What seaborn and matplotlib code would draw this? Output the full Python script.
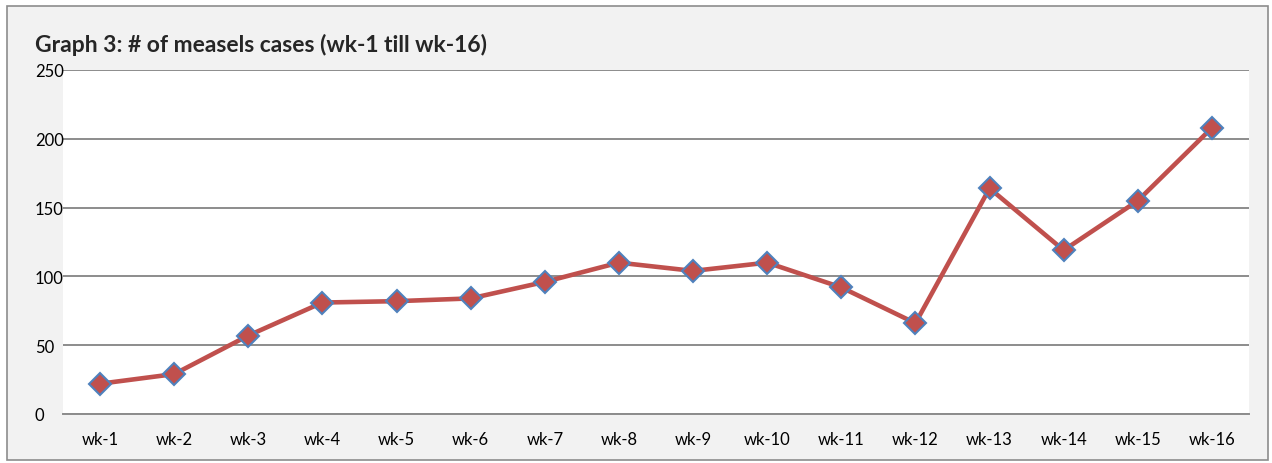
import matplotlib
matplotlib.use("Agg")
import matplotlib.pyplot as plt
import seaborn as sns
import pandas as pd
from matplotlib.patches import Rectangle

weeks = ["wk-1", "wk-2", "wk-3", "wk-4", "wk-5", "wk-6", "wk-7", "wk-8",
         "wk-9", "wk-10", "wk-11", "wk-12", "wk-13", "wk-14", "wk-15", "wk-16"]
cases = [22, 29, 57, 81, 82, 84, 96, 110, 104, 110, 92, 66, 164, 119, 155, 208]
yticks = [0, 50, 100, 150, 200, 250]
title = "Graph 3: # of measels cases (wk-1 till wk-16)"

sns.set_theme(style="white")
plt.rcParams['font.family'] = ['Lato', 'DejaVu Sans']

W, H = 1272, 464
fig = plt.figure(figsize=(W / 100, H / 100), dpi=100)
fig.patch.set_facecolor("white")
fig.patches.append(Rectangle((7 / W, 3 / H), (1268 - 7) / W, (457 - 3) / H,
                             transform=fig.transFigure, facecolor="#F2F2F2",
                             edgecolor="#8C8C8C", linewidth=1.2, zorder=-10))

ax = fig.add_axes([63 / W, (H - 415) / H, (1249 - 63) / W, (415 - 71) / H])
ax.set_facecolor("white")

df = pd.DataFrame({"week": weeks, "cases": cases})
sns.lineplot(data=df, x="week", y="cases", ax=ax, color="#C0504D", linewidth=3.3,
             marker="D", markersize=11, markerfacecolor="#C0504D",
             markeredgecolor="#4F81BD", markeredgewidth=1.5, sort=False, zorder=5)

ax.set_xlim(-0.5, len(weeks) - 0.5)
ax.set_ylim(0, 250)
ax.set_yticks(yticks)
ax.set_yticklabels([str(v) for v in yticks], fontsize=12, ha="left")
ax.set_xticks(range(len(weeks)))
ax.set_xticklabels(weeks, fontsize=12)
ax.tick_params(axis="both", length=0, colors="black")
ax.tick_params(axis="x", pad=12)
ax.tick_params(axis="y", pad=20.2)
ax.set_xlabel("")
ax.set_ylabel("")
ax.yaxis.grid(True, color="#8C8C8C", linewidth=1.4)
ax.set_axisbelow(True)
for s in ["top", "right", "left"]:
    ax.spines[s].set_visible(False)
ax.spines["bottom"].set_color("#8C8C8C")
ax.spines["bottom"].set_linewidth(1.4)

fig.text(35 / W, 1 - 45 / H, title, fontsize=16.5, fontweight="bold",
         va="center", ha="left")

fig.savefig("out.png", dpi=100)
